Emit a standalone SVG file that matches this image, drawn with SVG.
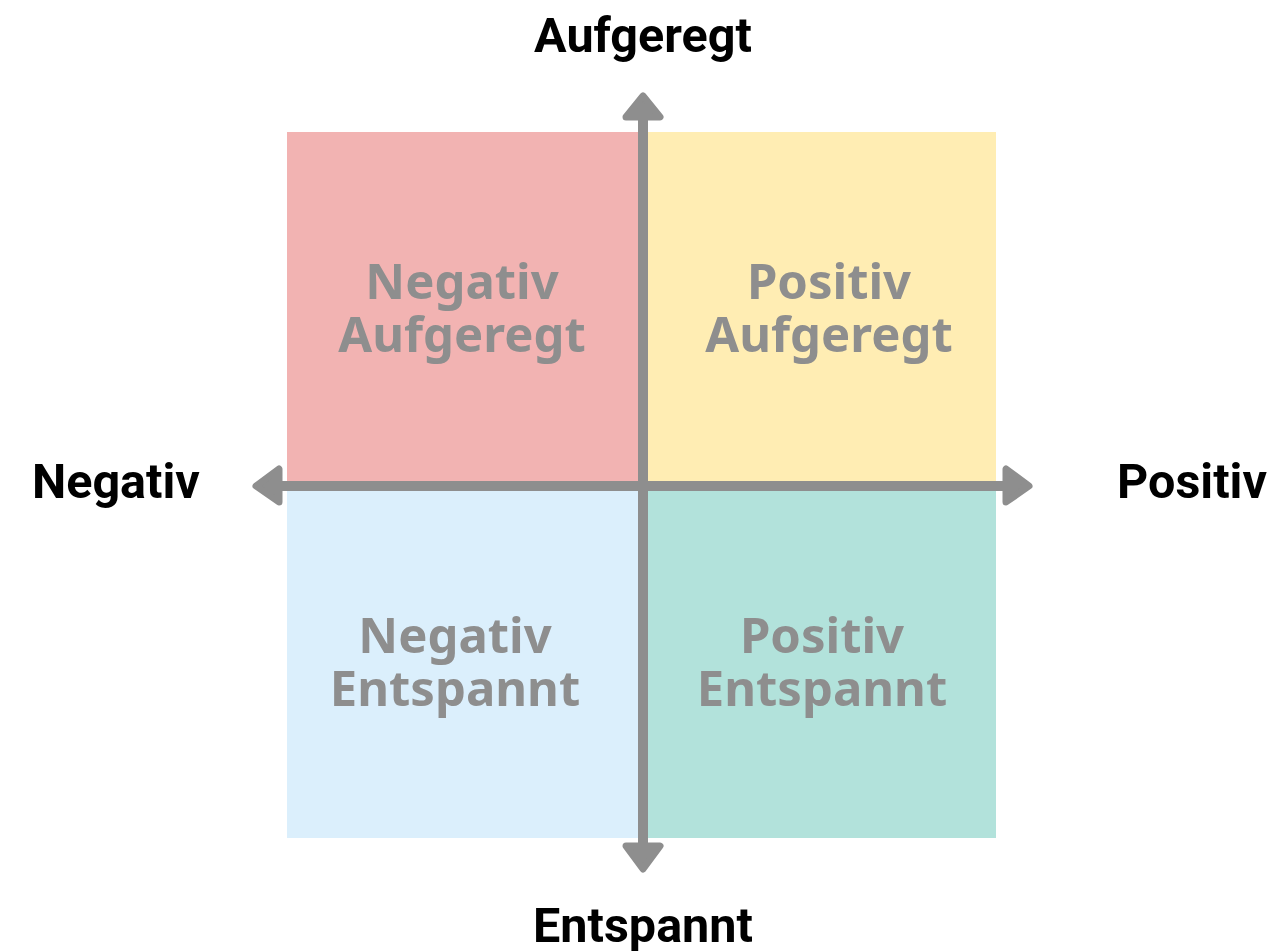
<svg xmlns="http://www.w3.org/2000/svg" width="1272" height="951" viewBox="0 0 1272 951">
<style>
.axis-label{font-family:Roboto,"Liberation Sans",sans-serif;font-weight:bold;font-size:48.5px;fill:#000}
.q-label{font-family:"Noto Sans","Open Sans",sans-serif;font-weight:bold;font-size:49px;fill:#8e8e8e;text-anchor:middle}
.axis{stroke:#8e8e8e;stroke-width:10;fill:none}
.head{fill:#8e8e8e;stroke:#8e8e8e;stroke-width:7;stroke-linejoin:round}
</style>
<rect width="1272" height="951" fill="#fff"/>
<g id="q-neg-auf"><rect x="287" y="132" width="356" height="354" fill="#f2b3b2"/>
<text class="q-label" x="462" y="299">Negativ</text><text class="q-label" x="462" y="352">Aufgeregt</text></g>
<g id="q-pos-auf"><rect x="643" y="132" width="353" height="354" fill="#ffedb3"/>
<text class="q-label" x="829" y="299">Positiv</text><text class="q-label" x="829" y="352">Aufgeregt</text></g>
<g id="q-neg-ent"><rect x="287" y="486" width="356" height="352" fill="#dbeffc"/>
<text class="q-label" x="455" y="653">Negativ</text><text class="q-label" x="455" y="706">Entspannt</text></g>
<g id="q-pos-ent"><rect x="643" y="486" width="353" height="352" fill="#b2e2db"/>
<text class="q-label" x="822" y="653">Positiv</text><text class="q-label" x="822" y="706">Entspannt</text></g>
<g id="connectors">
<line class="axis" x1="643" y1="118" x2="643" y2="846"/>
<line class="axis" x1="280" y1="486" x2="1005" y2="486"/>
<polygon class="head" points="643,96 660,117 626,117"/>
<polygon class="head" points="643,869 660,846 626,846"/>
<polygon class="head" points="256,486 279,469 279,502"/>
<polygon class="head" points="1029,486 1006,469 1006,502"/>
</g>
<g id="label-top"><text class="axis-label" x="643" y="52" text-anchor="middle">Aufgeregt</text></g>
<g id="label-bottom"><text class="axis-label" x="643" y="942" text-anchor="middle">Entspannt</text></g>
<g id="label-left"><text class="axis-label" x="32" y="498">Negativ</text></g>
<g id="label-right"><text class="axis-label" x="1267" y="498" text-anchor="end">Positiv</text></g>
</svg>
